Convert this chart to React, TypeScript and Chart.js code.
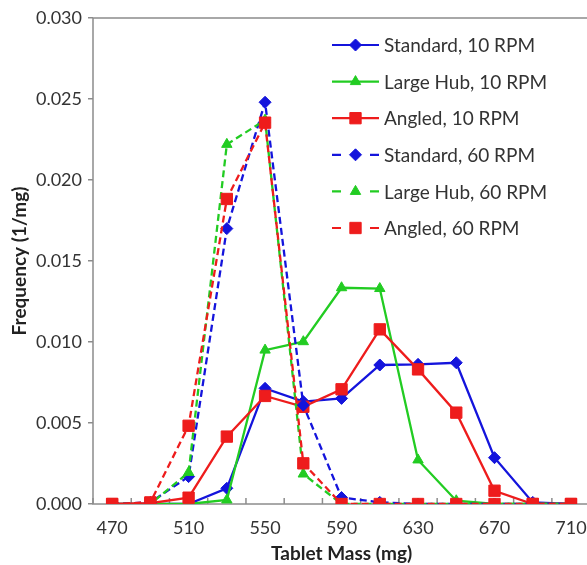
import React, { useEffect, useRef } from "react";
import { Chart, registerables } from "chart.js";

Chart.register(...registerables);

const categories = ["470", "490", "510", "530", "550", "570", "590", "610", "630", "650", "670", "690", "710"];
const standard10 = [0, 0, 0, 0.00097, 0.00714, 0.00632, 0.00652, 0.00858, 0.00862, 0.00872, 0.00286, 0.0001, 0];
const largeHub10 = [0, 0, 0, 0.00025, 0.0095, 0.01002, 0.01335, 0.0133, 0.00272, 0.0002, 0, 0, 0];
const angled10 = [0, 0.00005, 0.00039, 0.00416, 0.00667, 0.006, 0.00708, 0.01078, 0.00831, 0.00564, 0.00082, 0, 0];
const standard60 = [0, 0.0001, 0.00169, 0.017, 0.0248, 0.0061, 0.0004, 0.0001, 0, 0, 0, 0, 0];
const largeHub60 = [0, 0, 0.00195, 0.0222, 0.0237, 0.00185, 0, 0, 0, 0, 0, 0, 0];
const angled60 = [0, 0.0001, 0.00483, 0.01883, 0.02354, 0.00251, 0, 0, 0, 0, 0, 0, 0];
const seriesNames = [
  "Standard, 10 RPM",
  "Large Hub, 10 RPM",
  "Angled, 10 RPM",
  "Standard, 60 RPM",
  "Large Hub, 60 RPM",
  "Angled, 60 RPM",
];
const yTicks = [0, 0.005, 0.01, 0.015, 0.02, 0.025, 0.03];

const BLUE = "#1414dc";
const GREEN = "#22cc22";
const RED = "#ee1c1c";
const FONT = "Lato, 'Open Sans', sans-serif";

const frameAndTicks = {
  id: "frameAndTicks",
  beforeDatasetsDraw(chart: any) {
    const { ctx, chartArea } = chart;
    const x = chart.scales.x;
    ctx.save();
    ctx.strokeStyle = "#8c8c8c";
    ctx.lineWidth = 1.5;
    ctx.strokeRect(chartArea.left, chartArea.top, chartArea.right - chartArea.left, chartArea.bottom - chartArea.top);
    const n = categories.length;
    const half = (x.getPixelForValue(1) - x.getPixelForValue(0)) / 2;
    for (let i = 0; i <= n; i++) {
      const p = i < n ? x.getPixelForValue(i) - half : x.getPixelForValue(n - 1) + half;
      ctx.beginPath();
      ctx.moveTo(p, chartArea.bottom);
      ctx.lineTo(p, chartArea.bottom - 6);
      ctx.stroke();
    }
    ctx.restore();
  },
};

function drawMarker(ctx: CanvasRenderingContext2D, style: string, r: number, x: number, y: number) {
  ctx.beginPath();
  if (style === "rectRot") {
    ctx.moveTo(x, y - r);
    ctx.lineTo(x + r, y);
    ctx.lineTo(x, y + r);
    ctx.lineTo(x - r, y);
    ctx.closePath();
  } else if (style === "triangle") {
    const a = (Math.PI * 2) / 3;
    for (let k = 0; k < 3; k++) {
      const ang = -Math.PI / 2 + k * a;
      const px = x + Math.cos(ang) * r;
      const py = y + Math.sin(ang) * r;
      if (k === 0) ctx.moveTo(px, py);
      else ctx.lineTo(px, py);
    }
    ctx.closePath();
  } else {
    const s = Math.SQRT1_2 * r;
    ctx.rect(x - s, y - s, 2 * s, 2 * s);
  }
  ctx.fill();
  ctx.stroke();
}

const customLegend = {
  id: "customLegend",
  afterDraw(chart: any) {
    const { ctx } = chart;
    const x0 = 332;
    const x1 = 379;
    const textX = 384;
    const y0 = 45;
    const step = 36.6;
    ctx.save();
    ctx.font = `19px ${FONT}`;
    ctx.textBaseline = "middle";
    chart.data.datasets.forEach((ds: any, i: number) => {
      const y = y0 + i * step;
      ctx.strokeStyle = ds.borderColor;
      ctx.lineWidth = 2.2;
      ctx.beginPath();
      if (ds.borderDash && ds.borderDash.length) {
        ctx.moveTo(x0, y);
        ctx.lineTo(x0 + 9, y);
        ctx.moveTo(x1 - 9, y);
        ctx.lineTo(x1, y);
      } else {
        ctx.moveTo(x0, y);
        ctx.lineTo(x1, y);
      }
      ctx.stroke();
      ctx.fillStyle = ds.backgroundColor;
      ctx.strokeStyle = ds.borderColor;
      ctx.lineWidth = 1;
      drawMarker(ctx, ds.pointStyle, ds.pointRadius, (x0 + x1) / 2, y);
      ctx.fillStyle = "#333333";
      ctx.fillText(ds.label, textX, y + 1);
    });
    ctx.restore();
  },
};

function makeDs(label: string, data: number[], color: string, style: string, radius: number, dashed: boolean, order: number) {
  return {
    label,
    data,
    borderColor: color,
    backgroundColor: color,
    pointBackgroundColor: color,
    pointBorderColor: color,
    pointStyle: style,
    pointRadius: radius,
    pointBorderWidth: 1,
    borderWidth: 2.3,
    borderDash: dashed ? [7, 4] : [],
    tension: 0,
    fill: false,
    order,
  };
}

export default function App() {
  const ref = useRef<HTMLCanvasElement | null>(null);
  useEffect(() => {
    document.body.style.margin = "0";
    document.body.style.overflow = "hidden";
    if (!ref.current) return;
    const chart = new Chart(ref.current, {
      type: "line",
      data: {
        labels: categories,
        datasets: [
          makeDs(seriesNames[0], standard10, BLUE, "rectRot", 6, false, 6),
          makeDs(seriesNames[1], largeHub10, GREEN, "triangle", 6, false, 5),
          makeDs(seriesNames[2], angled10, RED, "rect", 8, false, 4),
          makeDs(seriesNames[3], standard60, BLUE, "rectRot", 6, true, 3),
          makeDs(seriesNames[4], largeHub60, GREEN, "triangle", 6, true, 2),
          makeDs(seriesNames[5], angled60, RED, "rect", 8, true, 1),
        ] as any,
      },
      options: {
        animation: false,
        responsive: false,
        events: [],
        layout: { padding: { top: 18, right: 8, left: 0, bottom: 0 } },
        plugins: {
          legend: { display: false },
          tooltip: { enabled: false },
        },
        scales: {
          x: {
            type: "category",
            offset: true,
            grid: { display: false, drawTicks: false },
            border: { display: false },
            ticks: {
              color: "#333333",
              font: { family: FONT, size: 18 },
              padding: 13,
              maxRotation: 0,
              autoSkip: false,
              callback: (_v: any, i: number) => (i % 2 === 0 ? categories[i] : ""),
            },
            title: {
              display: true,
              text: "Tablet Mass (mg)",
              color: "#222222",
              font: { family: FONT, size: 19, weight: "bold" },
              padding: { top: 0, bottom: 0 },
            },
            afterFit: (s: any) => {
              s.height = 61;
            },
          },
          y: {
            min: 0,
            max: 0.03,
            grid: { display: true, drawOnChartArea: false, tickLength: 5, color: "#8c8c8c", lineWidth: 1.5 },
            border: { display: false },
            afterBuildTicks: (s: any) => {
              s.ticks = yTicks.map((v) => ({ value: v }));
            },
            ticks: {
              color: "#333333",
              font: { family: FONT, size: 18 },
              padding: 6,
              callback: (v: any) => Number(v).toFixed(3),
            },
            title: {
              display: true,
              text: "Frequency (1/mg)",
              color: "#222222",
              font: { family: FONT, size: 19, weight: "bold" },
              padding: { top: 8, bottom: 0 },
            },
            afterFit: (s: any) => {
              s.width = 93;
            },
          },
        },
      } as any,
      plugins: [frameAndTicks, customLegend],
    });
    return () => chart.destroy();
  }, []);
  return (
    <div style={{ position: "fixed", left: 0, top: 0, width: 587, height: 565, overflow: "hidden", background: "#fff" }}>
      <canvas ref={ref} width={600} height={565} style={{ width: 600, height: 565, display: "block" }} />
    </div>
  );
}
